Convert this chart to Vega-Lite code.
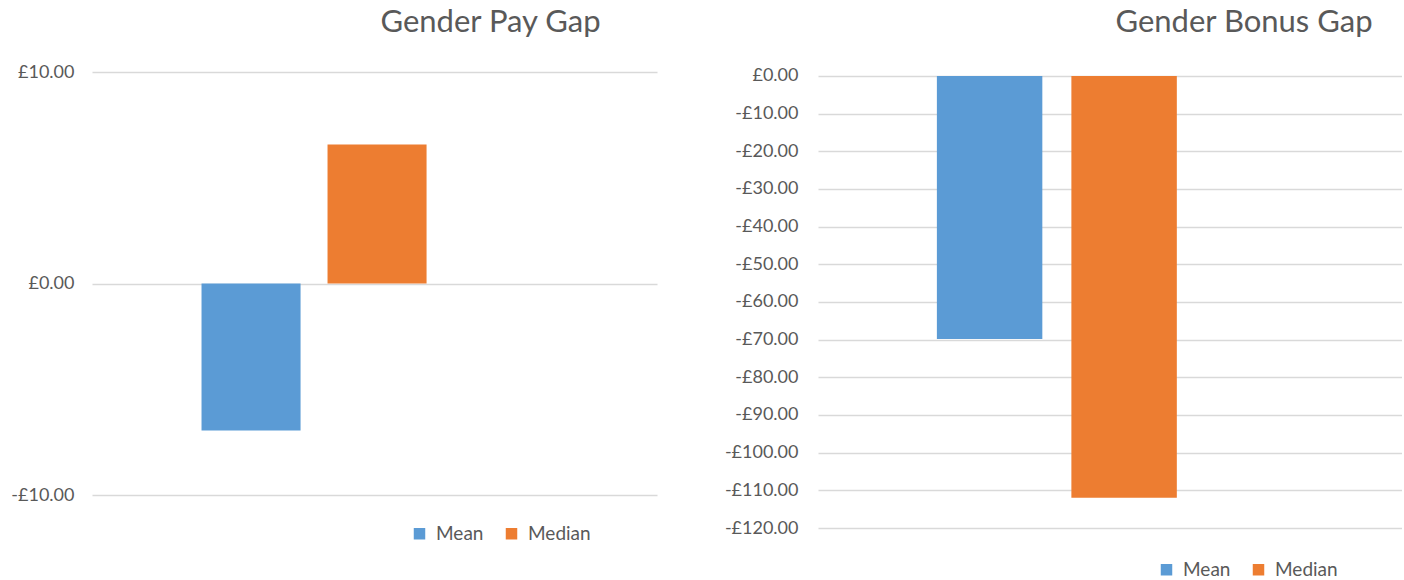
{
  "$schema": "https://vega.github.io/schema/vega-lite/v6.json",
  "background": "white",
  "padding": {"left": 10, "top": 6, "right": 0, "bottom": 0},
  "spacing": 67,
  "config": {
    "view": {"stroke": null},
    "font": "Lato",
    "axis": {"labelFont": "Lato", "labelFontSize": 18, "labelColor": "#595959", "domain": false, "ticks": false, "gridColor": "#d9d9d9", "gridWidth": 1.5},
    "legend": {"labelFont": "Lato", "labelFontSize": 19, "labelColor": "#595959", "symbolType": "square", "symbolSize": 132, "symbolStrokeWidth": 0, "columnPadding": 18, "labelOffset": 7},
    "title": {"font": "Lato", "fontSize": 31, "fontWeight": "normal", "color": "#595959"}
  },
  "resolve": {"scale": {"color": "independent", "y": "independent", "x": "independent", "xOffset": "independent"}, "legend": {"color": "independent"}},
  "hconcat": [
    {
      "width": 565,
      "height": 423,
      "title": {"text": "Gender Pay Gap", "anchor": "middle", "dx": 116, "offset": 24},
      "data": {"values": [{"chart": "Pay", "measure": "Mean", "gap": -6.95}, {"chart": "Pay", "measure": "Median", "gap": 6.57}]},
      "mark": {"type": "bar"},
      "encoding": {
        "x": {"field": "chart", "type": "nominal", "axis": null, "scale": {"paddingInner": 0, "paddingOuter": 0.5, "align": 0.286}},
        "xOffset": {"field": "measure", "type": "nominal", "scale": {"paddingInner": 0.214, "paddingOuter": 0.228}},
        "y": {"field": "gap", "type": "quantitative", "scale": {"domain": [-10, 10], "nice": false}, "axis": {"values": [-10, 0, 10], "title": null, "labelPadding": 18, "labelExpr": "(datum.value < 0 ? '-£' : '£') + format(abs(datum.value), '.2f')"}},
        "color": {"field": "measure", "type": "nominal", "scale": {"domain": ["Mean", "Median"], "range": ["#5B9BD5", "#ED7D31"]}, "legend": {"orient": "none", "legendX": 318, "legendY": 452, "direction": "horizontal", "title": null}}
      }
    },
    {
      "width": 584,
      "height": 456,
      "title": {"text": "Gender Bonus Gap", "anchor": "middle", "dx": 134, "offset": 28},
      "data": {"values": [{"chart": "Bonus", "measure": "Mean", "gap": -69.8}, {"chart": "Bonus", "measure": "Median", "gap": -112.0}]},
      "mark": {"type": "bar"},
      "encoding": {
        "x": {"field": "chart", "type": "nominal", "axis": null, "scale": {"paddingInner": 0, "paddingOuter": 0.5, "align": 0.318}},
        "xOffset": {"field": "measure", "type": "nominal", "scale": {"paddingInner": 0.216, "paddingOuter": 0.1935}},
        "y": {"field": "gap", "type": "quantitative", "scale": {"domain": [-120, 1.06], "nice": false, "zero": false}, "axis": {"values": [-120, -110, -100, -90, -80, -70, -60, -50, -40, -30, -20, -10, 0], "title": null, "labelPadding": 20, "labelExpr": "(datum.value < 0 ? '-£' : '£') + format(abs(datum.value), '.2f')"}},
        "color": {"field": "measure", "type": "nominal", "scale": {"domain": ["Mean", "Median"], "range": ["#5B9BD5", "#ED7D31"]}, "legend": {"orient": "none", "legendX": 339, "legendY": 488, "direction": "horizontal", "title": null}}
      }
    }
  ]
}
